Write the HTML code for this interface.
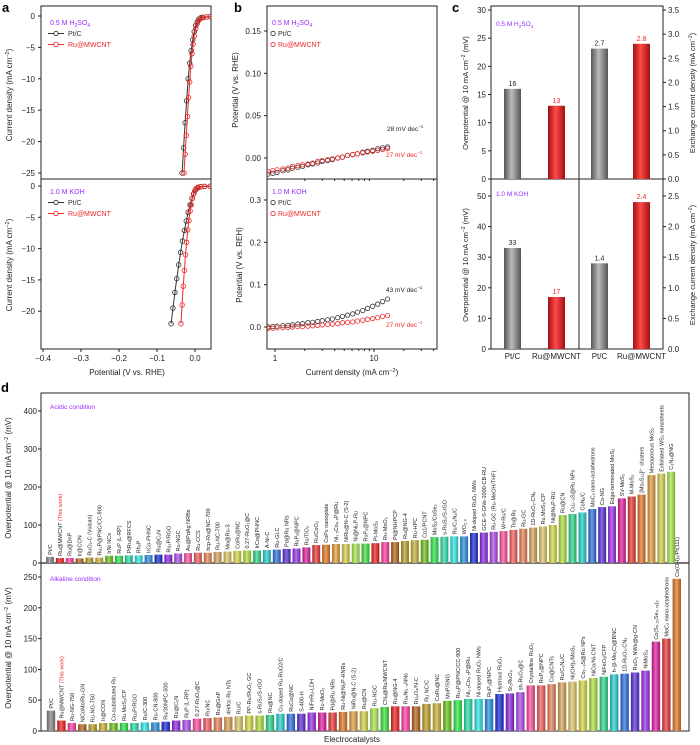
<!DOCTYPE html>
<html><head><meta charset="utf-8">
<style>
html,body{margin:0;padding:0;background:#fff;}
svg{display:block;font-family:"Liberation Sans",Arial,sans-serif;}
</style></head>
<body>
<svg id="fig" xmlns="http://www.w3.org/2000/svg" width="700" height="745" viewBox="0 0 700 745">
<defs>
<linearGradient id="gGray" x1="0" x2="1" y1="0" y2="0"><stop offset="0" stop-color="#555"/><stop offset="0.45" stop-color="#bbb"/><stop offset="1" stop-color="#555"/></linearGradient>
<linearGradient id="gRed" x1="0" x2="1" y1="0" y2="0"><stop offset="0" stop-color="#a01010"/><stop offset="0.45" stop-color="#ff4a4a"/><stop offset="1" stop-color="#a01010"/></linearGradient>
<linearGradient id="gShine" x1="0" x2="1" y1="0" y2="0"><stop offset="0" stop-color="#000" stop-opacity="0.25"/><stop offset="0.45" stop-color="#fff" stop-opacity="0.3"/><stop offset="1" stop-color="#000" stop-opacity="0.25"/></linearGradient>
<clipPath id="clipA1"><rect x="41" y="6" width="170" height="173"/></clipPath>
<clipPath id="clipA2"><rect x="41" y="179" width="170" height="170"/></clipPath>
<clipPath id="clipB1"><rect x="267" y="6" width="170" height="173"/></clipPath>
<clipPath id="clipB2"><rect x="267" y="179" width="170" height="170"/></clipPath>
</defs>
<g id="root"></g>
</svg>
<script>
// ---------- Panel a data ----------
const aAcidPtV = [-0.034,-0.030,-0.026,-0.022,-0.018,-0.014,-0.010,-0.006,-0.002,0.002,0.006,0.010,0.015,0.020,0.030,0.040];
const aAcidPtJ = [-25,-21,-17,-13.5,-10,-7.5,-5.5,-3.8,-2.5,-1.5,-0.9,-0.5,-0.3,-0.2,-0.15,-0.1];
const aAcidRuV = [-0.029,-0.026,-0.023,-0.020,-0.017,-0.014,-0.011,-0.008,-0.005,-0.002,0.002,0.006,0.010,0.015,0.022,0.030,0.040];
const aAcidRuJ = [-25,-22,-19,-16,-13,-10.5,-8,-6,-4.5,-3.2,-2,-1.2,-0.7,-0.4,-0.25,-0.15,-0.1];
const aAlkPtV = [-0.063,-0.058,-0.053,-0.048,-0.043,-0.038,-0.033,-0.028,-0.023,-0.018,-0.013,-0.008,-0.003,0.002,0.008,0.015,0.025,0.040];
const aAlkPtJ = [-22,-19.5,-17,-14.8,-12.6,-10.6,-8.8,-7.1,-5.6,-4.2,-3,-2,-1.2,-0.6,-0.3,-0.15,-0.08,-0.05];
const aAlkRuV = [-0.037,-0.034,-0.031,-0.028,-0.025,-0.022,-0.019,-0.016,-0.013,-0.010,-0.007,-0.004,-0.001,0.003,0.008,0.015,0.025,0.040];
const aAlkRuJ = [-22,-19,-16,-13.5,-11,-9,-7,-5.5,-4,-3,-2,-1.3,-0.8,-0.4,-0.2,-0.1,-0.05,-0.03];
const aXTicks = [-0.4,-0.3,-0.2,-0.1,0.0];
const aYTicks = [0,-5,-10,-15,-20,-25];
const aYTicks2 = [0,-5,-10,-15,-20];
// ---------- Panel b data ----------
const bJ = [0.85,0.95,1.05,1.2,1.35,1.5,1.7,1.9,2.15,2.4,2.7,3.0,3.4,3.8,4.3,4.8,5.4,6.1,6.8,7.7,8.6,9.7,10.9,12.2,13.7];
const bAcidPt = [-0.019,-0.018,-0.017,-0.015,-0.014,-0.012,-0.011,-0.010,-0.008,-0.007,-0.006,-0.004,-0.003,-0.002,0.000,0.001,0.003,0.004,0.005,0.007,0.008,0.009,0.011,0.012,0.013];
const bAcidRu = [-0.016,-0.015,-0.014,-0.013,-0.012,-0.010,-0.009,-0.008,-0.007,-0.006,-0.004,-0.003,-0.002,-0.001,0.000,0.001,0.003,0.004,0.005,0.006,0.007,0.008,0.009,0.010,0.011];
const bAlkPt = [0.000,0.001,0.002,0.003,0.004,0.005,0.007,0.008,0.010,0.011,0.013,0.015,0.017,0.019,0.022,0.025,0.028,0.031,0.035,0.039,0.044,0.049,0.054,0.060,0.066];
const bAlkRu = [-0.003,-0.003,-0.002,-0.002,-0.001,0.000,0.001,0.001,0.002,0.003,0.004,0.005,0.006,0.007,0.008,0.010,0.011,0.012,0.014,0.016,0.018,0.020,0.022,0.025,0.027];
const bYTicks1 = [0.00,0.05,0.10,0.15];
const bYTicks2 = [0.0,0.1,0.2,0.3];
const bXTicks = [1,10];
// ---------- Panel c data ----------
const cCats = ["Pt/C","Ru@MWCNT"];
const cAcidEta = [16,13];
const cAcidJ0 = [2.7,2.8];
const cAlkEta = [33,17];
const cAlkJ0 = [1.4,2.4];
// ---------- Panel d data ----------
const dAcidNames = ["Pt/C","Ru@MWCNT","Ru@DnP","Ir@CON","RuO₂-C (Vulcan)","Ru₂P@PNC/CC-900","IrNi NCs","RuP (L-RP)","PtRu@RFCS","Rh₂P","IrCo-PHNC","Ru@C₂N","Ru₂P/RGO","Ru-NGC","Au@PdAg NRBs","Ru-CCS","hcp-Ru@NC-700","Ru-NC-700","Mo@Ru-3","CoRu@NC","0.27-RuO₂@C","IrCo@PHNC","A-Ni-C","Ru-GLC","Pd@Ru NRs","RuP₂@NPC","Ru/TiO₂","Ru/CoO₂","CoPx nanoplate","Ni₁.₅Co₀.₅P@Ru","NiRu@N-C (S-2)","Ni@Ni₂P-Ru","RuP₂@NPC","Pt-MoS₂","Ru-MoO₂","Pt@NHPCP","Ru@NG-4","Ru-HPC","Co1/PCNT","MoS₂/CoSe₂","s-RuS₂/S-rGO","Ru/C₃N₄/C","WO₂.₉","Ni-doped RuO₂ NWs","GCE-S-GNs-1000-CB-RU","Ru-GC (Ru-MeOH/THF)","W+Ru/C","Te@Ru","Ru-GC","1D-RuO₂-CNₓ","Ru.MoS₂/CP","Ni@Ni₂P-RU","Ru@CN","Cu₂₋ₓS@Ru NPs","CoNₓ/C","MoC₂ nano-octahedrons","Co-NG","Edge-terminated MoS₂","SV-MoS₂","M-MoS₂","[Mo₃S₁₃]²⁻ clusters","Mesoporous MoS₂","Exfoliated WS₂ nanosheets","C₃N₄@NG"];
const dAcidVals = [16,13,13,12,14,14,19,19,20,20,21,22,22,25,26,27,27,29,30,32,33,33,34,35,37,38,41,47,48,50,50,51,51,52,55,55,58,60,61,68,69,70,70,79,80,82,84,87,90,93,96,100,126,129,133,142,147,149,170,175,180,231,235,240];
const dAlkNames = ["Pt/C","Ru@MWCNT","Ru-NG-750","NiCoMo/Ru-GN","Ru-NG-750","Ir@CON","Co-substituted Ru","Ru.MoS₂/CP","Ru₂P/RGO","Ru/C-300","Ru-CN-800","Ru/30NPC-500","Ru@C₂N","RuP (L-RP)","0.27-RuO₂@C","Ru/NC","Ru@GnP","4H/fcc Ru NTs","Ru/C","PP-Ru/RuO₂ GC","s-RuS₂/S-rGO","Ru@NC","Cu-doped Ru-RuO2/C","RuCo@NC","S-400-H","NiFeRu-LDH","Ru-MoO₂","Pd@Ru NRs","Ru-Ni@Ni₂P-HNRs","NiRu@N-C (S-2)","Ru@CN","Ru-NGC","CNₓ@Ru/MWCNT","Ru@NG-4","RuₓNi₁₋ₓNNs","Ru₃O₄/N-C","Ru NC/C","CoRu@NC","MoP/SNG","Ru₂P@PNC/CC-900","Ni₁.₅Co₀.₅P@Ru","Ni-doped RuO₂ NWs","RuP₂@NPC","Hydrous RuO₂","Sr₂RuO₄","sh-RuO₂@C","Crystalline RuO₂","RuP₂@NPC","Co@CNTs","Ru/C₃N₄/C","Ni(OH)₂/MoS₂","Co₂₋ₓS@Ru NPs","NiCo/Ni-CNT","NiFeOₓ/CFP","h-(β-Mo₂C)@BNC","1D-RuO₂-CNₓ","RuO₂ NWs@g-CN","NiMoS₄","Co(S₀.₂₂Se₀.₇₈)₂","MoC₂ nano-octahedrons","Co(OH)₂/Pt(111)"];
const dAlkVals = [33,17,13,11,11,13,13,13,13,14,14,15,17,18,20,21,22,23,24,25,25,26,28,28,28,30,30,30,31,32,32,37,39,40,40,40,44,45,49,50,52,52,52,60,61,63,74,74,76,79,80,82,86,88,92,93,95,98,145,150,247];
const dAcidTicks = [0,100,200,300,400];
const dAlkTicks = [0,50,100,150,200,250];

const NS="http://www.w3.org/2000/svg";
const root=document.getElementById('root');
function mk(tag,attrs,parent){const e=document.createElementNS(NS,tag);for(const k in attrs)e.setAttribute(k,attrs[k]);(parent||root).appendChild(e);return e;}
function txt(x,y,s,size,opts){opts=opts||{};const t=mk('text',{x:x,y:y,'font-size':size,fill:opts.fill||'#222','text-anchor':opts.anchor||'middle'},opts.parent);if(opts.rot!==undefined)t.setAttribute('transform','rotate('+opts.rot+' '+x+' '+y+')');if(opts.weight)t.setAttribute('font-weight',opts.weight);t.textContent=s;return t;}
function lin(d0,d1,r0,r1){return v=>r0+(v-d0)*(r1-r0)/(d1-d0);}
function logs(d0,d1,r0,r1){return v=>r0+(Math.log10(v)-Math.log10(d0))*(r1-r0)/(Math.log10(d1)-Math.log10(d0));}
const purple='#9a2bff', red='#ee2a2a';

// Panel letters
let L;
L=txt(2,12,'a',13,{anchor:'start',weight:'bold',fill:'#000'});


L=txt(234,12,'b',13,{anchor:'start',weight:'bold',fill:'#000'});


L=txt(452,12,'c',13,{anchor:'start',weight:'bold',fill:'#000'});


L=txt(1,392,'d',13,{anchor:'start',weight:'bold',fill:'#000'});



function series(g,xs,ys,sx,sy,color,clip,r,name){
  const sg=mk('g',{'clip-path':'url(#'+clip+')'},g);
  
  
  let d='';xs.forEach((x,i)=>{d+=(i?'L':'M')+sx(x).toFixed(1)+','+sy(ys[i]).toFixed(1);});
  if(r.line){const p=mk('path',{d:d,fill:'none',stroke:color,'stroke-width':1},sg);
    
    }
  xs.forEach((x,i)=>{const c=mk('circle',{cx:sx(x),cy:sy(ys[i]),r:r.r,fill:'none',stroke:color,'stroke-width':0.8},sg);
    
    });
}
function legend(g,x,y,title,markerOnly){
  const t=txt(x,y,'',7,{anchor:'start',fill:purple,parent:g});
  
  
  t.innerHTML=title;
  [['Pt/C','#333'],['Ru@MWCNT',red]].forEach((e,i)=>{
    const yy=y+11+i*11;
    const lg=mk('g',{},g);
    
    
    if(!markerOnly)mk('line',{x1:x-2,x2:x+14,y1:yy-2.5,y2:yy-2.5,stroke:e[1],'stroke-width':1},lg);
    mk('circle',{cx:markerOnly?x+1:x+6,cy:yy-2.5,r:2.2,fill:'#fff',stroke:e[1],'stroke-width':0.8},lg);
    txt(markerOnly?x+6:x+18,yy,e[0],7,{anchor:'start',fill:e[1],parent:lg});
  });
}
// ---------- Panel a ----------
(function(){
  const g=mk('g',{});
  const sx=lin(-0.4,0.0,43,195);
  const sy1=lin(0,-25,16,173), sy2=lin(0,-25,186,342.5);
  mk('rect',{x:41,y:6,width:170,height:343,fill:'none',stroke:'#222','stroke-width':1},g);
  mk('line',{x1:41,x2:211,y1:179,y2:179,stroke:'#222','stroke-width':1},g);
  aYTicks.forEach(v=>{mk('line',{x1:38,x2:41,y1:sy1(v),y2:sy1(v),stroke:'#222'},g);txt(35,sy1(v)+3,v===0?'0':'−'+(-v),8,{anchor:'end',parent:g});});
  aYTicks2.forEach(v=>{mk('line',{x1:38,x2:41,y1:sy2(v),y2:sy2(v),stroke:'#222'},g);txt(35,sy2(v)+3,v===0?'0':'−'+(-v),8,{anchor:'end',parent:g});});
  aXTicks.forEach(v=>{mk('line',{x1:sx(v),x2:sx(v),y1:349,y2:352,stroke:'#222'},g);txt(sx(v),361,v===0?'0.0':'−'+(-v).toFixed(1),8,{parent:g});});
  let t=txt(127,375,'Potential (V vs. RHE)',8,{parent:g});
  t=txt(12,95,'',8,{rot:-90,parent:g});t.innerHTML='Current density (mA cm<tspan dy="-3" font-size="5.5">−2</tspan><tspan dy="3">)</tspan>';
  t=txt(12,265,'',8,{rot:-90,parent:g});t.innerHTML='Current density (mA cm<tspan dy="-3" font-size="5.5">−2</tspan><tspan dy="3">)</tspan>';
  series(g,aAcidPtV,aAcidPtJ,sx,sy1,'#333','clipA1',{r:2.3,line:true},'acid-ptc-curve');
  series(g,aAcidRuV,aAcidRuJ,sx,sy1,red,'clipA1',{r:2.3,line:true},'acid-ru-curve');
  series(g,aAlkPtV,aAlkPtJ,sx,sy2,'#333','clipA2',{r:2.3,line:true},'alk-ptc-curve');
  series(g,aAlkRuV,aAlkRuJ,sx,sy2,red,'clipA2',{r:2.3,line:true},'alk-ru-curve');
  legend(g,50,25,'0.5 M H<tspan dy="2" font-size="5">2</tspan><tspan dy="-2">SO</tspan><tspan dy="2" font-size="5">4</tspan>',false);
  legend(g,50,194,'1.0 M KOH',false);
})();
// ---------- Panel b ----------
(function(){
  const g=mk('g',{});
  const sx=logs(1,10,275,374);
  const sy1=lin(0,0.15,158,31), sy2=lin(0,0.3,327,200);
  mk('rect',{x:267,y:6,width:170,height:343,fill:'none',stroke:'#222','stroke-width':1},g);
  mk('line',{x1:267,x2:437,y1:179,y2:179,stroke:'#222','stroke-width':1},g);
  bYTicks1.forEach(v=>{mk('line',{x1:264,x2:267,y1:sy1(v),y2:sy1(v),stroke:'#222'},g);txt(261,sy1(v)+3,v.toFixed(2),8,{anchor:'end',parent:g});});
  bYTicks2.forEach(v=>{mk('line',{x1:264,x2:267,y1:sy2(v),y2:sy2(v),stroke:'#222'},g);txt(261,sy2(v)+3,v.toFixed(1),8,{anchor:'end',parent:g});});
  bXTicks.forEach(v=>{mk('line',{x1:sx(v),x2:sx(v),y1:349,y2:352,stroke:'#222'},g);txt(sx(v),361,String(v),8,{parent:g});});
  [2,3,4,5,6,7,8,9,20,30,40].forEach(v=>{mk('line',{x1:sx(v),x2:sx(v),y1:349,y2:351,stroke:'#222'},g);mk('line',{x1:sx(v),x2:sx(v),y1:179,y2:181,stroke:'#222'},g);});
  let t=txt(352,375,'',8,{parent:g});t.innerHTML='Current density (mA cm<tspan dy="-3" font-size="5.5">−2</tspan><tspan dy="3">)</tspan>';
  txt(238,90,'Potential (V vs. RHE)',8,{rot:-90,parent:g});
  txt(242,265,'Potential (V vs. REH)',8,{rot:-90,parent:g});
  series(g,bJ,bAcidPt,sx,sy1,'#333','clipB1',{r:2.2,line:false},'acid-ptc-tafel');
  series(g,bJ,bAcidRu,sx,sy1,red,'clipB1',{r:2.2,line:false},'acid-ru-tafel');
  series(g,bJ,bAlkPt,sx,sy2,'#333','clipB2',{r:2.2,line:false},'alk-ptc-tafel');
  series(g,bJ,bAlkRu,sx,sy2,red,'clipB2',{r:2.2,line:false},'alk-ru-tafel');
  legend(g,272,25,'0.5 M H<tspan dy="2" font-size="5">2</tspan><tspan dy="-2">SO</tspan><tspan dy="2" font-size="5">4</tspan>',true);
  legend(g,272,194,'1.0 M KOH',true);
  [[387,131,'28','#222'],[386,157,'27',red],[386,292,'43','#222'],[386,327,'27',red]].forEach(a=>{
    const tt=txt(a[0],a[1],'',6.5,{anchor:'start',fill:a[3],parent:g});
    
    
    tt.innerHTML=a[2]+' mV dec<tspan dy="-3" font-size="4.5">−1</tspan>';
  });
})();
// ---------- Panel c ----------
(function(){
  const g=mk('g',{});
  const L0=491,M=579,R=663;
  const syL1=lin(0,30,179,10), syR1=lin(0,3.5,179,10);
  const syL2=lin(0,50,349,196), syR2=lin(0,2.5,349,196);
  mk('rect',{x:L0,y:6,width:R-L0,height:343,fill:'none',stroke:'#222','stroke-width':1},g);
  mk('line',{x1:L0,x2:R,y1:179,y2:179,stroke:'#222'},g);
  mk('line',{x1:M,x2:M,y1:6,y2:349,stroke:'#222'},g);
  [0,5,10,15,20,25,30].forEach(v=>{mk('line',{x1:L0-3,x2:L0,y1:syL1(v),y2:syL1(v),stroke:'#222'},g);txt(L0-5,syL1(v)+3,String(v),8,{anchor:'end',parent:g});});
  [0,10,20,30,40,50].forEach(v=>{mk('line',{x1:L0-3,x2:L0,y1:syL2(v),y2:syL2(v),stroke:'#222'},g);txt(L0-5,syL2(v)+3,String(v),8,{anchor:'end',parent:g});});
  [0,0.5,1,1.5,2,2.5,3,3.5].forEach(v=>{mk('line',{x1:R,x2:R+3,y1:syR1(v),y2:syR1(v),stroke:'#222'},g);txt(R+5,syR1(v)+3,v.toFixed(1),8,{anchor:'start',parent:g});});
  [0.5,1,1.5,2,2.5].forEach(v=>{mk('line',{x1:R,x2:R+3,y1:syR2(v),y2:syR2(v),stroke:'#222'},g);txt(R+5,syR2(v)+3,v.toFixed(1),8,{anchor:'start',parent:g});});
  txt(R+5,352,'0.0',8,{anchor:'start',parent:g});
  let t;
  t=txt(468,93,'',7.5,{rot:-90,parent:g});t.innerHTML='Overpotential @ 10 mA cm<tspan dy="-3" font-size="5">−2</tspan><tspan dy="3"> (mV)</tspan>';
  t=txt(468,265,'',7.5,{rot:-90,parent:g});t.innerHTML='Overpotential @ 10 mA cm<tspan dy="-3" font-size="5">−2</tspan><tspan dy="3"> (mV)</tspan>';
  t=txt(695,93,'',7.5,{rot:-90,parent:g});t.innerHTML='Exchange current density (mA cm<tspan dy="-3" font-size="5">−2</tspan><tspan dy="3">)</tspan>';
  t=txt(695,265,'',7.5,{rot:-90,parent:g});t.innerHTML='Exchange current density (mA cm<tspan dy="-3" font-size="5">−2</tspan><tspan dy="3">)</tspan>';
  t=txt(496,26,'',6.5,{anchor:'start',fill:purple,parent:g});t.innerHTML='0.5 M H<tspan dy="2" font-size="4.5">2</tspan><tspan dy="-2">SO</tspan><tspan dy="2" font-size="4.5">4</tspan>';
  txt(496,196,'1.0 M KOH',6.5,{anchor:'start',fill:purple,parent:g});
  const xs=[[504,548],[591,633]], w=17;
  function bar(x,y0,y,val,i,name){
    const r=mk('rect',{x:x,y:y,width:w,height:y0-y,fill:i?'url(#gRed)':'url(#gGray)'},g);
    
    
    txt(x+w/2,y-3,val,7,{fill:i?red:'#222',parent:g});
  }
  cCats.forEach((c,i)=>{
    bar(xs[0][i],179,syL1(cAcidEta[i]),cAcidEta[i],i,'acid-overpotential-bar');
    bar(xs[1][i],179,syR1(cAcidJ0[i]),cAcidJ0[i],i,'acid-exchange-bar');
    bar(xs[0][i],349,syL2(cAlkEta[i]),cAlkEta[i],i,'alk-overpotential-bar');
    bar(xs[1][i],349,syR2(cAlkJ0[i]),cAlkJ0[i],i,'alk-exchange-bar');
    txt(xs[0][i]+w/2,359,c,8,{parent:g});
    txt(xs[1][i]+w/2,359,c,8,{parent:g});
  });
})();
// ---------- Panel d ----------
(function(){
  const g=mk('g',{});
  const X0=41,X1=689,top=393,mid=563,bot=731;
  const syA=lin(0,100,563,525), syK=lin(0,250,731,577);
  mk('rect',{x:X0,y:top,width:X1-X0,height:bot-top,fill:'none',stroke:'#222','stroke-width':1},g);
  mk('line',{x1:X0,x2:X1,y1:mid,y2:mid,stroke:'#222','stroke-width':1.3},g);
  dAcidTicks.forEach(v=>{mk('line',{x1:X0-3,x2:X0,y1:syA(v),y2:syA(v),stroke:'#222'},g);txt(X0-4,syA(v)+3,String(v),8,{anchor:'end',parent:g});});
  dAlkTicks.forEach(v=>{mk('line',{x1:X0-3,x2:X0,y1:syK(v),y2:syK(v),stroke:'#222'},g);txt(X0-4,syK(v)+3,String(v),8,{anchor:'end',parent:g});});
  let t;
  t=txt(11,478,'',8,{rot:-90,parent:g});t.innerHTML='Overpotential @ 10 mA cm<tspan dy="-3" font-size="5.5">−2</tspan><tspan dy="3"> (mV)</tspan>';
  t=txt(11,648,'',8,{rot:-90,parent:g});t.innerHTML='Overpotential @ 10 mA cm<tspan dy="-3" font-size="5.5">−2</tspan><tspan dy="3"> (mV)</tspan>';
  t=txt(352,742,'Electrocatalysts',8,{parent:g});
  txt(50,409,'Acidic condition',6.5,{anchor:'start',fill:purple,parent:g});
  txt(50,581,'Alkaline condition',6.5,{anchor:'start',fill:purple,parent:g});
  const pal=['#ee2222','#ff3fa0','#b5651d','#b8a12a','#c9b43a','#6fc21f','#2ee84a','#2ddcaa','#33e6e6','#2a8fe0','#1c2ed6','#8a2be2','#b04ce8','#ff4fa0','#f26060','#e8845a','#d9a55a','#e0c86a','#d8d848','#b0e040','#2fd88a','#28d0d0','#3070e0','#5a30d8','#9b30e8','#e020a0','#e83a3a','#e07828','#e0a040','#d8d050','#a8e850','#40e040'];
  function draw(names,vals,sy,base,x0,pitch,name){
    vals.forEach((v,i)=>{
      const cx=x0+i*pitch, w=pitch*0.8, y=sy(v);
      const col=i===0?'#888':pal[(i-1)%pal.length];
      const r=mk('rect',{x:cx-w/2,y:y,width:w,height:base-y,fill:col},g);
      
      
      mk('rect',{x:cx-w/2,y:y,width:w,height:base-y,fill:'url(#gShine)'},g);
      const lt=txt(cx+2,y-2,names[i],5.5,{anchor:'start',rot:-90,parent:g});
      
      
      if(i===1){const ts=mk('tspan',{fill:red},lt);ts.textContent='  (This work)';}
    });
  }
  draw(dAcidNames,dAcidVals,syA,mid,50,9.86,'acidic');
  draw(dAlkNames,dAlkVals,syK,bot,51,10.43,'alkaline');
})();
</script>
</body></html>
